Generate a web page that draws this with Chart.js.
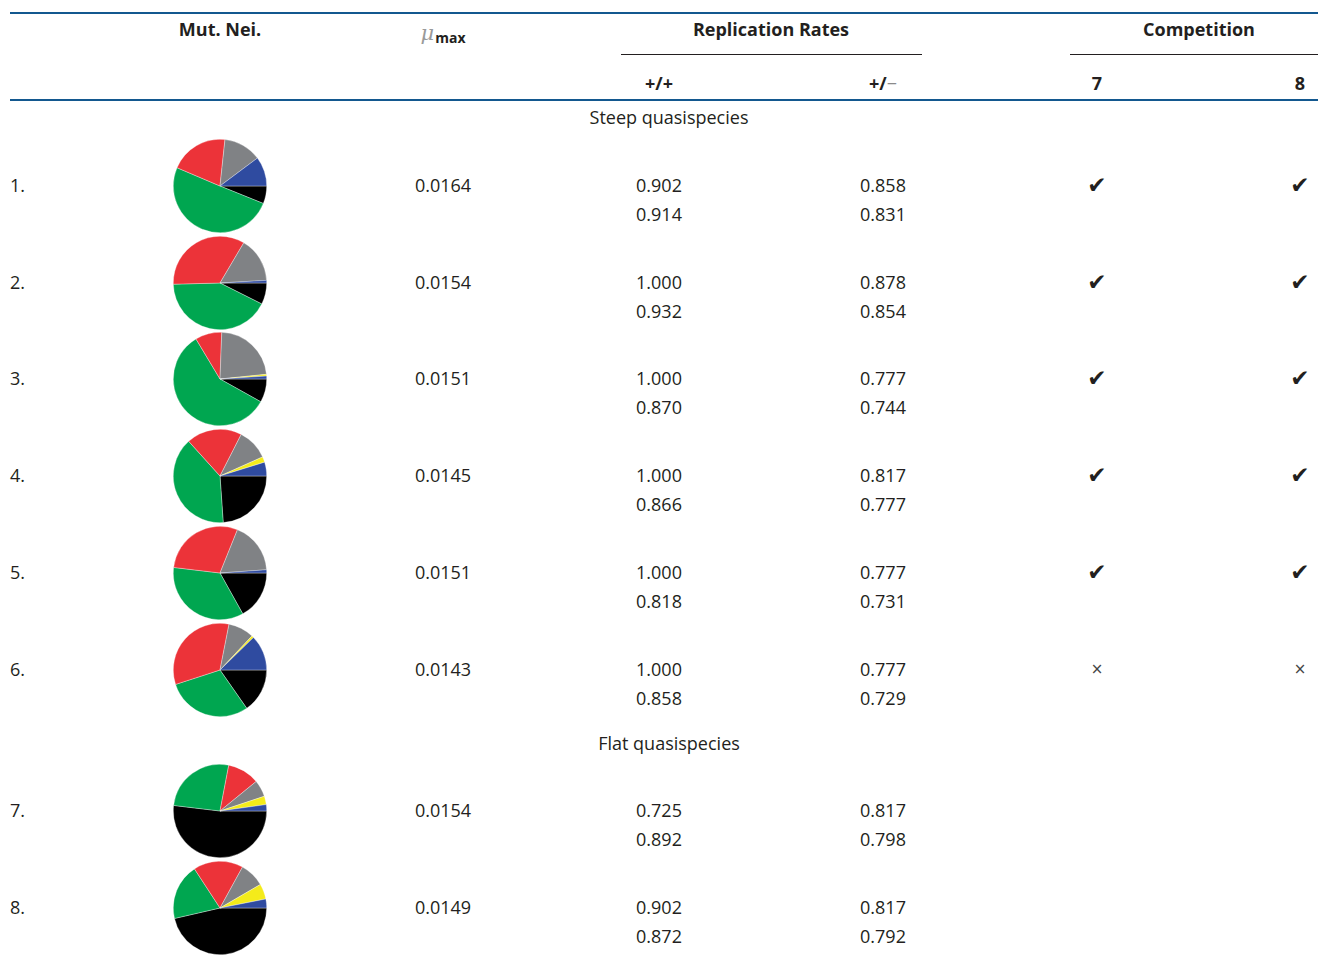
<!DOCTYPE html>
<html>
<head>
<meta charset="utf-8">
<script src="https://cdn.jsdelivr.net/npm/chart.js@4/dist/chart.umd.min.js"></script>
<style>
  html, body { margin: 0; padding: 0; background: #fff; }
  #sheet { position: relative; width: 1318px; height: 977px; overflow: hidden;
           font-family: "Open Sans", "Noto Sans", sans-serif; font-size: 18px; color: #231f20; }
  .t { position: absolute; white-space: nowrap; line-height: 1; }
  .c { transform: translate(-50%, -50%); }
  .l { transform: translate(0, -50%); }
  .b { font-weight: 700; }
  .rule { position: absolute; }
  canvas.pie { position: absolute; }
</style>
</head>
<body>
<div id="sheet"></div>
<script>
// Row labels and table values
const rowLabels = ["1.", "2.", "3.", "4.", "5.", "6.", "7.", "8."];
const muMax = ["0.0164", "0.0154", "0.0151", "0.0145", "0.0151", "0.0143", "0.0154", "0.0149"];
const rateWtA = ["0.902", "1.000", "1.000", "1.000", "1.000", "1.000", "0.725", "0.902"];
const rateWtB = ["0.914", "0.932", "0.870", "0.866", "0.818", "0.858", "0.892", "0.872"];
const rateHetA = ["0.858", "0.878", "0.777", "0.817", "0.777", "0.777", "0.817", "0.817"];
const rateHetB = ["0.831", "0.854", "0.744", "0.777", "0.731", "0.729", "0.798", "0.792"];
const comp7 = ["✔", "✔", "✔", "✔", "✔", "×", "", ""];
const comp8 = ["✔", "✔", "✔", "✔", "✔", "×", "", ""];
const groupTitles = ["Steep quasispecies", "Flat quasispecies"];

// Mutational neighbourhood composition (percent), slices in order:
// black, green, red, gray, yellow, blue
const sliceNames = ["black", "green", "red", "gray", "yellow", "blue"];
const sliceColors = ["#000000", "#00a650", "#ec3339", "#808285", "#f4eb1a", "#2f4ba0"];
const neighbourShares = [
  [6.1, 50.3, 20.3, 13.1, 0.0, 10.2],
  [7.4, 42.2, 33.9, 15.6, 0.0, 0.9],
  [8.1, 58.3, 9.2, 22.8, 0.6, 1.0],
  [23.9, 39.4, 19.2, 10.8, 1.9, 4.8],
  [16.9, 35.0, 29.2, 17.8, 0.0, 1.1],
  [15.3, 29.7, 33.1, 8.9, 0.7, 12.3],
  [51.9, 26.1, 11.1, 5.8, 2.9, 2.2],
  [46.4, 19.4, 17.2, 8.6, 5.3, 3.1]
];

// ---- layout ----
const sheet = document.getElementById("sheet");
const rowY = [185, 282, 378, 475, 572, 669, 810, 907];
const lineGap = 29;
const pieX = 220, pieR = 47;

function text(str, x, y, cls, extraStyle) {
  const d = document.createElement("div");
  d.className = "t " + cls;
  d.style.left = x + "px";
  d.style.top = y + "px";
  if (extraStyle) d.setAttribute("style", d.getAttribute("style") + ";" + extraStyle);
  d.innerHTML = str;
  sheet.appendChild(d);
  return d;
}
function rule(x1, x2, y, h, color) {
  const d = document.createElement("div");
  d.className = "rule";
  d.style.left = x1 + "px";
  d.style.width = (x2 - x1) + "px";
  d.style.top = y + "px";
  d.style.height = h + "px";
  d.style.background = color;
  sheet.appendChild(d);
}

// rules
rule(10, 1318, 12, 2.2, "#13588f");
rule(10, 1318, 98.6, 2.2, "#13588f");
rule(621, 922, 53.6, 1.8, "#231f20");
rule(1070, 1318, 53.6, 1.8, "#231f20");

// header
text("Mut. Nei.", 220, 29, "c b");
text('<span style="font-family:\'DejaVu Serif\',serif;font-style:italic;color:#9a9a9a;font-size:21px">μ</span>' +
     '<span class="b" style="font-size:14px;position:relative;top:3px;margin-left:1px">max</span>', 443, 33, "c");
text("Replication Rates", 771, 29, "c b");
text("Competition", 1199, 29, "c b");
text('+/+', 659, 83, "c b");
text('+/<span style="color:#8a8a8a;font-weight:400">−</span>', 883, 83, "c b");
text("7", 1097, 83, "c b");
text("8", 1300, 83, "c b");

text(groupTitles[0], 669, 117, "c");
text(groupTitles[1], 669, 743, "c");

// body rows
rowLabels.forEach((lab, i) => {
  const y = rowY[i];
  text(lab, 10, y, "l");
  text(muMax[i], 443, y, "c");
  text(rateWtA[i], 659, y, "c");
  text(rateWtB[i], 659, y + lineGap, "c");
  text(rateHetA[i], 883, y, "c");
  text(rateHetB[i], 883, y + lineGap, "c");
  const markStyle = comp7[i] === "×"
    ? "font-family:'DejaVu Sans',sans-serif;font-size:15px;color:#444"
    : "font-family:'DejaVu Sans',sans-serif;font-size:23px;color:#231f20";
  if (comp7[i]) text(comp7[i], 1097, y, "c", markStyle);
  if (comp8[i]) text(comp8[i], 1300, y, "c", markStyle);

  // composition pie
  const cv = document.createElement("canvas");
  cv.className = "pie";
  const size = pieR * 2;
  cv.width = size; cv.height = size;
  cv.style.left = (pieX - pieR) + "px";
  cv.style.top = (y + 1 - pieR) + "px";
  sheet.appendChild(cv);
  new Chart(cv, {
    type: "pie",
    data: {
      labels: sliceNames,
      datasets: [{
        data: neighbourShares[i],
        backgroundColor: sliceColors,
        borderColor: "rgba(255,255,255,0.55)",
        borderWidth: 0.6
      }]
    },
    options: {
      responsive: false,
      animation: false,
      rotation: 90,
      layout: { padding: 0 },
      plugins: { legend: { display: false }, tooltip: { enabled: false } }
    }
  });
});
</script>
</body>
</html>
